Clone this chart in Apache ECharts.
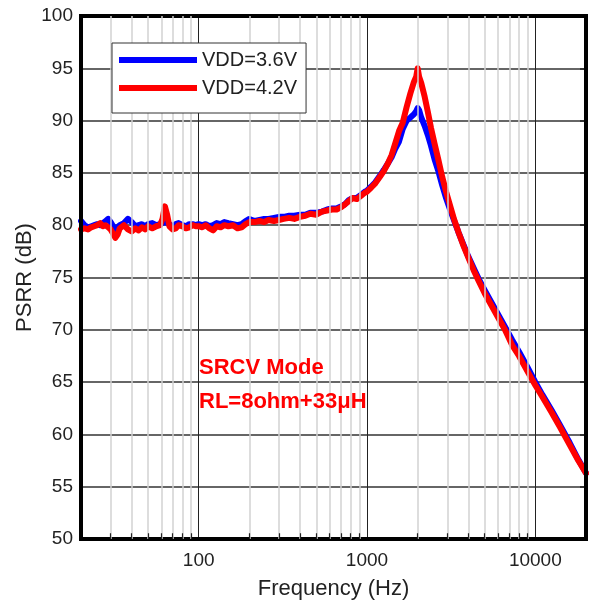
<!DOCTYPE html>
<html><head><meta charset="utf-8">
<script src="https://cdn.jsdelivr.net/npm/echarts@6/dist/echarts.min.js"></script>
<style>html,body{margin:0;padding:0;background:#fff}#c{width:590px;height:605px}</style>
</head><body><div id="c"></div>
<script>
const freqHz = [20,21,22,23,24,25,26,27,28,29,30,31,32,33,34,36,38,40,42,44,46,48,50,53,56,59,61,63,65,67,70,73,76,80,84,88,92,96,100,105,110,116,122,128,135,142,150,160,170,180,190,200,215,230,245,260,280,300,320,345,370,400,430,460,500,540,580,620,660,700,740,780,820,870,920,970,1000,1060,1120,1190,1260,1330,1400,1470,1550,1630,1720,1810,1900,1960,2000,2040,2100,2200,2300,2400,2520,2650,2800,2950,3100,3300,3500,3750,4000,4300,4600,5000,5500,6000,6600,7300,8000,9000,10000,11000,12500,14000,16000,18000,20000];
const psrrVdd36 = [80.4,80.0,79.8,79.9,80.0,80.1,80.0,80.2,80.4,80.6,80.3,79.9,79.6,79.8,80.0,80.2,80.6,80.3,79.9,80.0,80.1,79.9,80.1,80.2,80.0,80.1,80.2,80.3,80.2,80.1,79.9,80.1,80.2,80.0,79.9,80.1,80.1,80.0,80.1,80.0,80.1,79.9,80.0,80.2,80.1,80.3,80.2,80.1,80.0,80.1,80.4,80.6,80.4,80.5,80.6,80.6,80.7,80.8,80.8,80.9,80.9,81.0,81.0,81.2,81.2,81.3,81.5,81.6,81.6,81.8,82.0,82.4,82.6,82.6,82.9,83.2,83.3,83.7,84.1,84.7,85.3,85.9,86.5,87.3,88.0,89.2,90.0,90.3,90.6,90.9,91.2,91.0,90.3,89.5,88.6,87.6,86.3,85.2,83.8,82.6,81.6,80.4,79.3,78.1,77.0,75.9,74.9,73.8,72.6,71.5,70.3,69.0,67.9,66.4,65.0,63.8,62.3,60.9,59.2,57.6,56.3];
const psrrVdd42 = [79.6,79.7,79.6,79.8,79.9,80.0,80.2,79.9,80.0,79.8,79.6,79.2,78.8,79.1,79.7,80.0,79.6,79.4,79.7,79.5,79.8,79.6,79.9,79.7,79.9,80.0,80.6,81.8,81.0,79.9,79.6,79.7,80.0,79.9,79.7,79.8,80.0,79.9,79.9,79.8,80.0,79.7,79.5,79.9,79.8,80.0,79.9,80.0,79.7,79.8,80.1,80.3,80.3,80.4,80.3,80.5,80.4,80.5,80.6,80.7,80.6,80.8,80.9,81.1,81.0,81.3,81.4,81.5,81.5,81.7,82.0,82.3,82.6,82.5,82.8,83.1,83.2,83.6,84.0,84.6,85.2,85.9,86.7,87.8,89.0,89.8,91.3,92.6,93.7,94.2,95.0,94.2,93.6,92.3,90.8,89.3,87.8,86.3,84.6,83.2,82.0,80.5,79.3,78.0,76.9,75.7,74.7,73.5,72.3,71.2,70.0,68.5,67.5,66.0,64.7,63.6,62.1,60.7,59.0,57.5,56.3];
const seriesNames = ['VDD=3.6V','VDD=4.2V'];
const minorGridHz = [30,40,50,60,70,80,90,200,300,400,500,600,700,800,900,2000,3000,4000,5000,6000,7000,8000,9000];
const xMin = 20, xMax = 20000;
const yMin = 50, yMax = 100, yStep = 5;
const notes = ['SRCV Mode','RL=8ohm+33μH'];

const FONT = '"Liberation Sans", Arial, sans-serif';
const chart = echarts.init(document.getElementById('c'), null, {renderer:'canvas'});
chart.setOption({
  backgroundColor:'#fff',
  animation:false,
  grid:{left:81,right:4,top:16,bottom:63,show:true,borderColor:'#000',borderWidth:4,backgroundColor:'transparent',z:5},
  legend:{
    show:true, orient:'vertical', left:112, top:43,
    data:seriesNames, icon:'rect', itemWidth:78, itemHeight:6, itemGap:6,
    backgroundColor:'#fff', borderColor:'#333', borderWidth:1, borderRadius:0,
    padding:[6,9,14,7],
    textStyle:{fontFamily:FONT,fontSize:20,color:'#222',lineHeight:22,padding:[0,0,0,0]},
    selectedMode:false, z:10
  },
  xAxis:{
    type:'log', logBase:10, min:xMin, max:xMax,
    axisLine:{show:false}, axisTick:{show:false},
    axisLabel:{fontFamily:FONT,fontSize:19,color:'#222',margin:12,
      formatter:function(v){const l=Math.log10(v);return Math.abs(l-Math.round(l))<1e-6?String(Math.round(v)):'';},
      showMinLabel:false, showMaxLabel:false},
    splitLine:{show:true,lineStyle:{color:'#222',width:1}},
    name:'Frequency (Hz)', nameLocation:'middle', nameGap:39, nameMoveOverlap:false,
    nameTextStyle:{fontFamily:FONT,fontSize:22,color:'#222'}
  },
  yAxis:[{
    type:'value', min:yMin, max:yMax, interval:yStep,
    axisLine:{show:false}, axisTick:{show:false},
    axisLabel:{fontFamily:FONT,fontSize:19,color:'#222',margin:8},
    splitLine:{show:true,lineStyle:{color:'#333',width:1.5}},
    name:'PSRR (dB)', nameLocation:'middle', nameGap:45, nameRotate:90, nameMoveOverlap:false,
    nameTextStyle:{fontFamily:FONT,fontSize:22,color:'#222'}
  },{
    type:'value', min:yMin, max:yMax, interval:yStep, position:'right',
    axisLine:{show:false}, axisLabel:{show:false}, splitLine:{show:false},
    axisTick:{show:true,inside:true,length:6,lineStyle:{color:'#222',width:1.5}}
  }],
  series:[
    {
      type:'line', name:'_grid', data:[[xMin,yMin]], showSymbol:false, silent:true, z:-1,
      lineStyle:{width:0,opacity:0}, legendHoverLink:false,
      markLine:{silent:true,symbol:['none','none'],label:{show:false},animation:false,
        lineStyle:{color:'#d2d2d2',width:1.5,type:'solid'},
        data:minorGridHz.map(v=>({xAxis:v}))}
    },
    {
      type:'line', name:'_ticks', data:[[xMin,yMin]], showSymbol:false, silent:true, z:4,
      lineStyle:{width:0,opacity:0}, legendHoverLink:false,
      markLine:{silent:true,symbol:['none','none'],label:{show:false},animation:false,
        lineStyle:{color:'#222',width:1.2,type:'solid'},
        data:minorGridHz.map(v=>[{coord:[v,yMin]},{coord:[v,yMin+0.55]}])}
    },
    {
      type:'line', name:seriesNames[0], data:freqHz.map((f,i)=>[f,psrrVdd36[i]]),
      showSymbol:false, smooth:false, z:3,
      lineStyle:{color:'#0000ff',width:6,join:'round',cap:'round'}, itemStyle:{color:'#0000ff'}
    },
    {
      type:'line', name:seriesNames[1], data:freqHz.map((f,i)=>[f,psrrVdd42[i]]),
      showSymbol:false, smooth:false, z:3,
      lineStyle:{color:'#ff0000',width:6,join:'round',cap:'round'}, itemStyle:{color:'#ff0000'}
    }
  ],
  graphic:[
    {type:'text',left:199,top:357,z:20,style:{text:notes[0],fill:'#ff0000',font:'bold 22px '+FONT}},
    {type:'text',left:199,top:391,z:20,style:{text:notes[1],fill:'#ff0000',font:'bold 22px '+FONT}}
  ]
});
</script></body></html>
